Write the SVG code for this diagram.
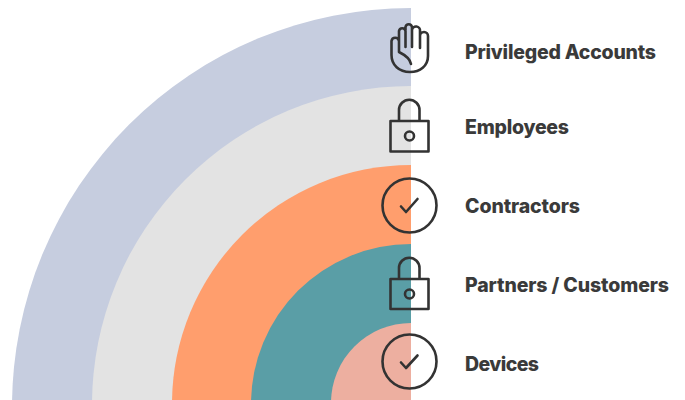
<svg xmlns="http://www.w3.org/2000/svg" width="685" height="400" viewBox="0 0 685 400">
<style>
.lbl{font-family:"Inter","Lato","Liberation Sans",sans-serif;font-weight:800;font-size:19.500px;fill:#3a3a3a}
.ic{fill:none;stroke:#333;stroke-width:2.600;stroke-linecap:round;stroke-linejoin:round}
</style>
<rect width="685" height="400" fill="#fff"/>
<g id="bands">
<path d="M411 8A399 399 0 0 0 12 407H411Z" fill="#c6cddf"/>
<path d="M411 86A319 319 0 0 0 92 405H411Z" fill="#e3e3e3"/>
<path d="M411 165A239 239 0 0 0 172 404H411Z" fill="#ff9e6d"/>
<path d="M411 244A160 160 0 0 0 251 404H411Z" fill="#5a9ea6"/>
<path d="M411 323A80 80 0 0 0 331 403H411Z" fill="#edafa0"/>
</g>
<g id="privileged-accounts">
<path class="ic" d="M399 50V31A3.300 3.300 0 0 1 405.500 31V47M405.500 30V27A3.300 3.300 0 0 1 412 27V47M412 30A4 4 0 0 1 420 31V48M420 36A4 4 0 0 1 428 36V56C428 66 420 72 410 72C399 72 391.500 65 391.500 55V41A3.800 3.800 0 0 1 399 41V52C403 54 410 58 411 64"/>
<text class="lbl" x="465" y="59" textLength="191">Privileged Accounts</text>
</g>
<g id="employees">
<path class="ic" d="M390.500 121H428.500V151.500H390.500ZM399 121V110A10 10 0 0 1 419.500 110V121"/>
<circle class="ic" cx="409.500" cy="136" r="4.500"/>
<text class="lbl" x="465" y="134" textLength="104">Employees</text>
</g>
<g id="contractors">
<circle class="ic" cx="409.500" cy="205.500" r="27"/>
<path class="ic" d="M401 206.500L406 212L417.500 199"/>
<text class="lbl" x="465" y="213" textLength="115">Contractors</text>
</g>
<g id="partners-customers">
<path class="ic" d="M390.500 279H428.500V309H390.500ZM399 279V268A10 10 0 0 1 419.500 268V279"/>
<circle class="ic" cx="409.500" cy="294" r="4.500"/>
<text class="lbl" x="465" y="292" textLength="204">Partners / Customers</text>
</g>
<g id="devices">
<circle class="ic" cx="409.500" cy="361.500" r="27"/>
<path class="ic" d="M401 362.500L406 368L417.500 355.500"/>
<text class="lbl" x="465" y="371" textLength="74">Devices</text>
</g>
</svg>
